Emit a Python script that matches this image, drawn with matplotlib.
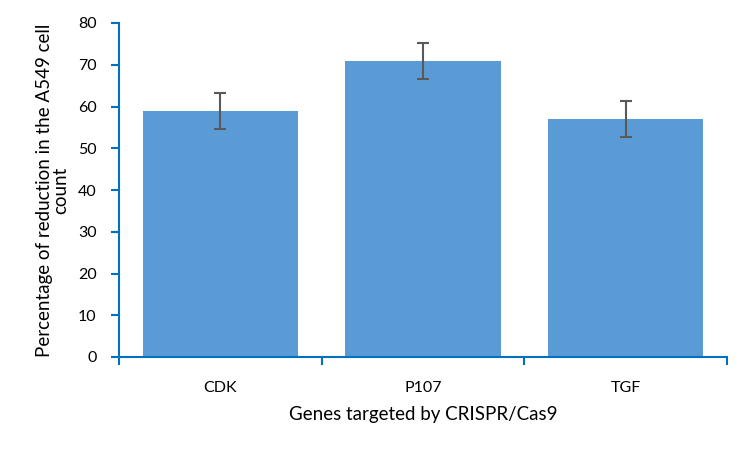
import matplotlib
matplotlib.use("Agg")
import matplotlib.pyplot as plt
import numpy as np

categories = ["CDK", "P107", "TGF"]
values = [59, 71, 57]
errors = [4.3, 4.3, 4.4]
yticks = [0, 10, 20, 30, 40, 50, 60, 70, 80]

plt.rcParams['font.family'] = ['Lato', 'DejaVu Sans']

fig = plt.figure(figsize=(7.5, 4.5), dpi=100)
ax = fig.add_axes([119 / 750, 1 - 357 / 450, (727 - 119) / 750, (357 - 23) / 450])

x = np.arange(len(categories))
ax.bar(x, values, width=0.765, color="#5B9BD5", zorder=2)
ax.errorbar(x, values, yerr=errors, fmt="none", ecolor="#595959",
            elinewidth=1.5, capsize=4, capthick=1.5, zorder=3)

ax.set_xlim(-0.5, len(categories) - 0.5)
ax.set_ylim(0, 80)
ax.set_yticks(yticks)
ax.set_yticklabels([str(t) for t in yticks], fontsize=11.5)

ax.set_xticks(x)
ax.set_xticklabels(categories, fontsize=11.5)
ax.tick_params(axis='x', length=0, pad=17)
# category boundary ticks
ax.set_xticks(np.arange(-0.5, len(categories), 1.0), minor=True)
ax.tick_params(axis='x', which='minor', length=6, width=1.5, color="#0070C0", direction='out')
ax.tick_params(axis='y', length=6, width=1.5, color="#0070C0", direction='out', pad=10)

for s in ['top', 'right']:
    ax.spines[s].set_visible(False)
for s in ['left', 'bottom']:
    ax.spines[s].set_color("#0070C0")
    ax.spines[s].set_linewidth(1.5)

ax.set_ylabel("Percentage of reduction in the A549 cell\ncount", fontsize=13.5, linespacing=1.0, labelpad=6)
ax.set_xlabel("Genes targeted by CRISPR/Cas9", fontsize=13.5, labelpad=8)

fig.savefig("out.png", dpi=100)
